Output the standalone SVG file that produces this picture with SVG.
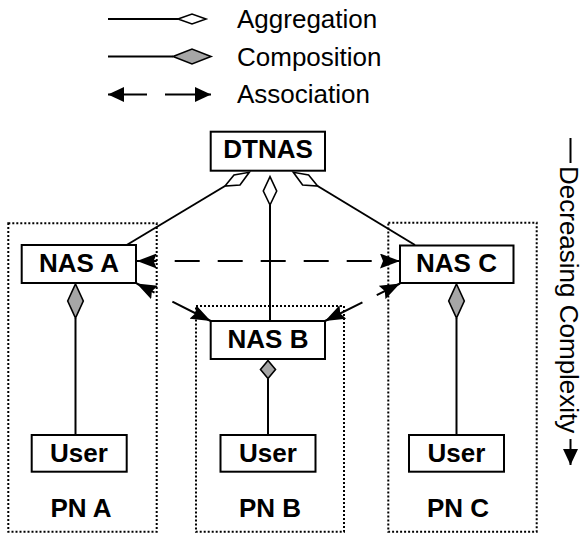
<svg xmlns="http://www.w3.org/2000/svg" width="583" height="533" viewBox="0 0 583 533">
  <style>
    .box { fill: #fff; stroke: #000; stroke-width: 2; }
    .pn { fill: none; stroke: #000; stroke-width: 2; stroke-dasharray: 2 2; }
    .lbl { font-family: "Liberation Sans", Arial, sans-serif; font-size: 26px; font-weight: bold; text-anchor: middle; fill: #000; }
    .leg { font-family: "Liberation Sans", Arial, sans-serif; font-size: 26px; fill: #000; }
    .line { fill: none; stroke: #000; stroke-width: 2; }
    .agg { fill: #fff; stroke: #000; stroke-width: 1.6; }
    .comp { fill: #a6a6a6; stroke: #000; stroke-width: 1.6; }
    .assoc { marker-start: url(#arrow); marker-end: url(#arrow); }
  </style>
  <defs>
    <marker id="arrow" viewBox="0 0 20 15" refX="20" refY="7.5" markerWidth="20" markerHeight="15" markerUnits="userSpaceOnUse" orient="auto-start-reverse">
      <path d="M0,0 L20,7.5 L0,15 L3,7.5 z" fill="#000"/>
    </marker>
    <marker id="arrowSm" viewBox="0 0 16 15" refX="16" refY="7.5" markerWidth="16" markerHeight="15" markerUnits="userSpaceOnUse" orient="auto-start-reverse">
      <path d="M0,0 L16,7.5 L0,15 z" fill="#000"/>
    </marker>
  </defs>

  <!-- legend -->
  <g id="legend">
    <line class="line" x1="108" y1="19" x2="178" y2="19"/>
    <polygon class="agg" points="178,19 192,14 206,19 192,24"/>
    <text class="leg" x="237" y="28">Aggregation</text>
    <line class="line" x1="108" y1="56.5" x2="173" y2="56.5"/>
    <polygon class="comp" points="173,56.5 192,49 211,56.5 192,64"/>
    <text class="leg" x="237" y="65.5">Composition</text>
    <path class="line" d="M108,94.5 H211" stroke-dasharray="39 18 100" marker-start="url(#arrowSm)" marker-end="url(#arrowSm)"/>
    <text class="leg" x="237" y="103">Association</text>
  </g>

  <!-- personal networks -->
  <g id="pn-a">
    <rect class="pn" x="8.3" y="223.3" width="148.4" height="308.4"/>
    <text class="lbl" x="81" y="516.7">PN A</text>
  </g>
  <g id="pn-b">
    <rect class="pn" x="196" y="306" width="148" height="225.7"/>
    <text class="lbl" x="270" y="516.7">PN B</text>
  </g>
  <g id="pn-c">
    <rect class="pn" x="388.3" y="222.7" width="148.4" height="309"/>
    <text class="lbl" x="458" y="516.7">PN C</text>
  </g>

  <!-- connectors -->
  <g id="connectors">
    <!-- DTNAS aggregations -->
    <polygon class="agg" points="225,186 234,175 249.3,172.3 240,185"/>
    <line class="line" x1="225" y1="186" x2="126.7" y2="245"/>
    <polygon class="agg" points="270,176.7 276.7,191 270,205 263.3,191"/>
    <line class="line" x1="270" y1="205" x2="270" y2="321"/>
    <polygon class="agg" points="317.6,186 308.6,175 293.3,172.3 302.6,185"/>
    <line class="line" x1="317.6" y1="186" x2="415" y2="245"/>

    <!-- NAS-to-user compositions -->
    <polygon class="comp" points="75.5,284 83.3,301 75.5,318 67.7,301"/>
    <line class="line" x1="75.5" y1="318" x2="75.5" y2="435"/>
    <polygon class="comp" points="268,360.5 275.5,369.5 268,378.5 260.5,369.5"/>
    <line class="line" x1="268" y1="378.5" x2="268" y2="435"/>
    <polygon class="comp" points="456.5,284 464.3,301 456.5,318 448.7,301"/>
    <line class="line" x1="456.5" y1="318" x2="456.5" y2="435"/>

    <!-- associations between NAS nodes -->
    <path class="line assoc" d="M136.7,261 H400" stroke-dasharray="25 18" stroke-dashoffset="5"/>
    <path class="line assoc" d="M136.7,283.5 L210.7,321" stroke-dasharray="20 20 60"/>
    <path class="line assoc" d="M400,283.5 L325,321" stroke-dasharray="26 16 60"/>

    <!-- complexity axis -->
    <line class="line" x1="570.5" y1="138" x2="570.5" y2="163"/>
    <path class="line" d="M570.5,439 V465" marker-end="url(#arrowSm)"/>
  </g>

  <!-- nodes -->
  <g id="dtnas">
    <rect class="box" x="210.7" y="131.7" width="114.3" height="39"/>
    <text class="lbl" x="268" y="157.7">DTNAS</text>
  </g>
  <g id="nas-a">
    <rect class="box" x="21.7" y="245" width="114.3" height="38"/>
    <text class="lbl" x="79" y="272">NAS A</text>
  </g>
  <g id="nas-b">
    <rect class="box" x="210.7" y="321" width="114.3" height="38"/>
    <text class="lbl" x="268" y="347.7">NAS B</text>
  </g>
  <g id="nas-c">
    <rect class="box" x="400" y="245.5" width="113.5" height="37.5"/>
    <text class="lbl" x="456.5" y="271.7">NAS C</text>
  </g>
  <g id="user-a">
    <rect class="box" x="31.7" y="435" width="95" height="36.7"/>
    <text class="lbl" x="79" y="461.7">User</text>
  </g>
  <g id="user-b">
    <rect class="box" x="220.5" y="435" width="95" height="36.7"/>
    <text class="lbl" x="268" y="461.7">User</text>
  </g>
  <g id="user-c">
    <rect class="box" x="409" y="435" width="95" height="36.7"/>
    <text class="lbl" x="456.5" y="461.7">User</text>
  </g>

  <!-- rotated axis label -->
  <text class="leg" transform="translate(559.5,166) rotate(90)">Decreasing Complexity</text>
</svg>
